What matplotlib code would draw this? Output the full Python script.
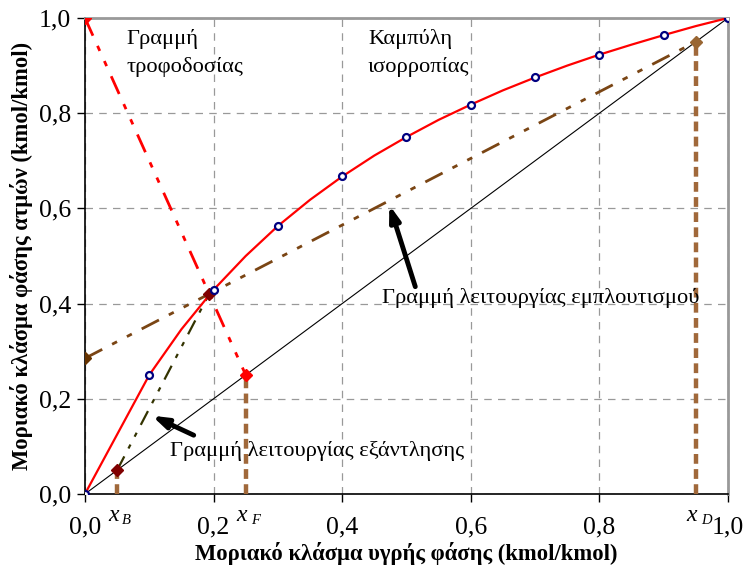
import matplotlib.pyplot as plt
import matplotlib.ticker as ticker

plt.rcParams['font.family'] = ['Liberation Serif', 'DejaVu Serif']

# equilibrium data (markers) and the smoothed curve through them
x_eq = [0.0, 0.1, 0.2, 0.3, 0.4, 0.5, 0.6, 0.7, 0.8, 0.9, 1.0]
y_eq = [0.0, 0.25, 0.429, 0.563, 0.667, 0.75, 0.818, 0.875, 0.923, 0.964, 1.0]
x_curve = [0.0, 0.1, 0.15, 0.2, 0.25, 0.3, 0.35, 0.4, 0.45, 0.5,
           0.55, 0.6, 0.65, 0.7, 0.75, 0.8, 0.85, 0.9, 0.95, 1.0]
y_curve = [0.0, 0.25, 0.346, 0.429, 0.5, 0.563, 0.618, 0.667, 0.711, 0.75,
           0.786, 0.818, 0.848, 0.875, 0.9, 0.923, 0.944, 0.964, 0.983, 1.0]

# compositions
xB, xF, xD = 0.05, 0.25, 0.95
y_top_intercept = 0.285   # rectifying line at x = 0
x_int, y_int = 0.193, 0.420  # operating lines meet feed line

x_feed = [0.0, xF]
y_feed = [1.0, xF]
x_rect = [0.0, xD]
y_rect = [y_top_intercept, xD]
x_strip = [xB, x_int]
y_strip = [xB, y_int]

ticks = [0.0, 0.2, 0.4, 0.6, 0.8, 1.0]
tick_labels = ['0,0', '0,2', '0,4', '0,6', '0,8', '1,0']

fig = plt.figure(figsize=(7.44, 5.71), dpi=100)
ax = fig.add_axes([0.1142, 0.1349, 0.8643, 0.8336])

ax.grid(True, color='#999999', linestyle=(0, (6, 5)), linewidth=0.9)
ax.set_axisbelow(True)

# diagonal y = x
ax.plot([0, 1], [0, 1], color='black', linewidth=0.8)

# vertical markers at xB, xF, xD
vcol = '#a0683a'
for xv in (xB, xF, xD):
    ax.plot([xv, xv], [0, xv], color=vcol, linewidth=3.2, linestyle=(0, (2.2, 1.2)), zorder=3)

dashdotdot = (0, (7, 4, 2, 4, 2, 4))
ax.plot(x_rect, y_rect, color='#7a4514', linewidth=2.0, linestyle=dashdotdot, zorder=3)
ax.plot(x_strip, y_strip, color='#333300', linewidth=1.6, linestyle=dashdotdot, zorder=3)
ax.plot(x_feed, y_feed, color='#ff0000', linewidth=2.0, linestyle=dashdotdot, zorder=3)

ax.plot(x_curve, y_curve, color='#ff0000', linewidth=1.6, zorder=4)
ax.plot(x_eq, y_eq, linestyle='none', marker='o', markersize=5, markerfacecolor='white',
        markeredgecolor='#000080', markeredgewidth=1.6, zorder=6)

# diamonds on the key points
ax.plot([0.0, xF], [1.0, xF], linestyle='none', marker='D', markersize=6, color='#ff0000', zorder=5)
ax.plot([0.0], [y_top_intercept], linestyle='none', marker='D', markersize=6, color='#663300', zorder=5)
ax.plot([xD], [xD], linestyle='none', marker='D', markersize=6, color='#996633', zorder=5)
ax.plot([xB, x_int], [xB, y_int], linestyle='none', marker='D', markersize=6, color='#800000', zorder=5)

ax.set_xlim(0, 1)
ax.set_ylim(0, 1)
ax.xaxis.set_major_locator(ticker.FixedLocator(ticks))
ax.yaxis.set_major_locator(ticker.FixedLocator(ticks))
ax.set_xticklabels(tick_labels, fontsize=18.5)
ax.set_yticklabels(tick_labels, fontsize=18.5)
ax.tick_params(axis='x', direction='out', length=6, width=1, pad=10)
ax.tick_params(axis='y', direction='out', length=6, width=1, pad=4)

for side in ('top', 'right'):
    ax.spines[side].set_color('#999999')
    ax.spines[side].set_linewidth(2)
for side in ('left', 'bottom'):
    ax.spines[side].set_color('black')
    ax.spines[side].set_linewidth(1.2)

ax.set_xlabel('Μοριακό κλάσμα υγρής φάσης (kmol/kmol)', fontsize=16.3, fontweight='bold', labelpad=3)
ax.set_ylabel('Μοριακό κλάσμα φάσης ατμών (kmol/kmol)', fontsize=16.3, fontweight='bold', labelpad=4)

# composition labels under the axis
for xv, name in ((xB, 'B'), (xF, 'F'), (xD, 'D')):
    ax.text(xv - 0.006, -0.046, 'x', fontsize=17, style='italic', ha='center', va='center',
            clip_on=False)
    ax.text(xv + 0.008, -0.056, name, fontsize=10.5, style='italic', ha='left', va='center',
            clip_on=False)

ax.text(0.065, 0.955, 'Γραμμή', fontsize=16.2, va='center')
ax.text(0.065, 0.898, 'τροφοδοσίας', fontsize=16.2, va='center')
ax.text(0.44, 0.955, 'Καμπύλη', fontsize=16.2, va='center')
ax.text(0.44, 0.898, 'ισορροπίας', fontsize=16.2, va='center')
ax.text(0.462, 0.412, 'Γραμμή λειτουργίας εμπλουτισμού', fontsize=16.2, va='center')
ax.text(0.132, 0.09, 'Γραμμή λειτουργίας εξάντλησης', fontsize=16.2, va='center')

ax.annotate('', xy=(0.472, 0.613), xytext=(0.515, 0.43),
            arrowprops=dict(arrowstyle='-|>,head_length=0.9,head_width=0.3', color='black', lw=3.5))
ax.annotate('', xy=(0.1, 0.167), xytext=(0.173, 0.121),
            arrowprops=dict(arrowstyle='-|>,head_length=0.9,head_width=0.3', color='black', lw=3.5))

fig.savefig('out.png', dpi=100)
